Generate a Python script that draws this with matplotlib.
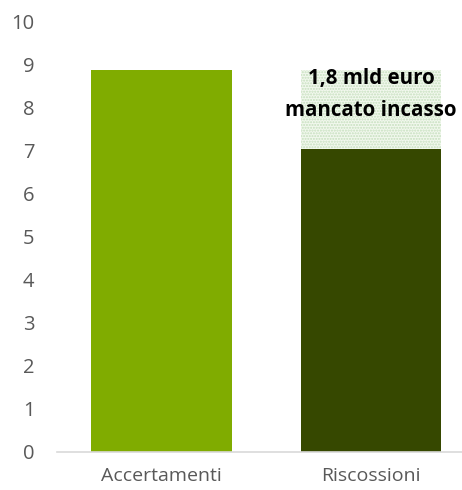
import matplotlib
matplotlib.use("Agg")
import matplotlib.pyplot as plt

categories = ["Accertamenti", "Riscossioni"]
values = [8.88, 7.05]
gap_value = 1.83
annotation_lines = ["1,8 mld euro", "mancato incasso"]
yticks = list(range(0, 11))

plt.rcParams['font.family'] = ['Open Sans', 'DejaVu Sans']
plt.rcParams['hatch.linewidth'] = 1.0

fig = plt.figure(figsize=(4.62, 4.90), dpi=100)
ax = fig.add_axes([0.123, 0.0776, 0.877, 0.8776])

x = list(range(len(categories)))
colors = ["#80ac00", "#364800"]
ax.bar(x, values, width=0.67, color=colors, zorder=2)
ax.bar([x[1]], [gap_value], bottom=[values[1]], width=0.67,
       facecolor="#f2f8ee", edgecolor="#c5dfbd", hatch="......",
       linewidth=0, zorder=2)

baselines = [8.56, 7.81]
for line, yb in zip(annotation_lines, baselines):
    ax.text(x[1], yb, line, ha="center", va="baseline",
            fontsize=14.8, fontweight="bold", color="black", zorder=3,
            clip_on=False)

ax.set_ylim(0, 10)
ax.set_xlim(-0.5, 1.435)
ax.set_yticks(yticks)
ax.set_xticks(x)
ax.set_xticklabels(categories)
for s in ["top", "right", "left"]:
    ax.spines[s].set_visible(False)
ax.spines["bottom"].set_color("#d9d9d9")
ax.spines["bottom"].set_linewidth(1.2)
ax.tick_params(axis="y", length=0, pad=16, labelsize=14.5, labelcolor="#595959")
ax.tick_params(axis="x", length=0, pad=11, labelsize=14, labelcolor="#595959")

fig.savefig("out.png", dpi=100)
